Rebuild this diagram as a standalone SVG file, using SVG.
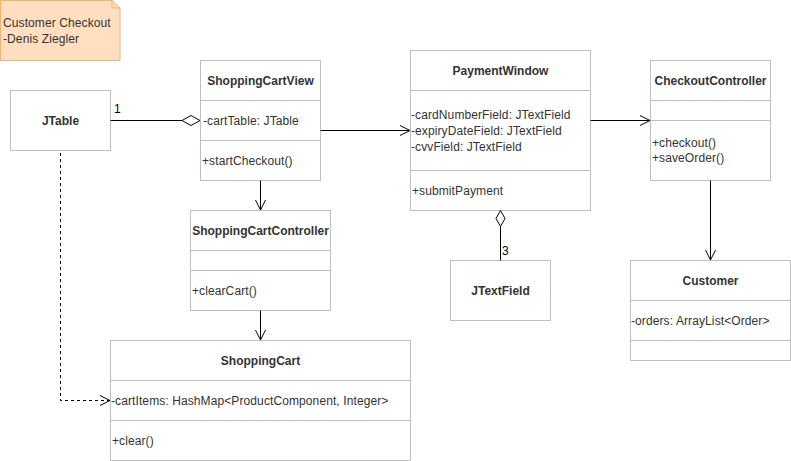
<svg xmlns="http://www.w3.org/2000/svg" width="791" height="461" viewBox="0 0 791 461">
<defs>
<style>
.box{fill:#fff;stroke:#c0c0c0;stroke-width:1}
.sep{stroke:#c0c0c0;stroke-width:1}
.t{font-family:"Liberation Sans",Arial,sans-serif;font-size:12px;fill:#333;letter-spacing:0.1px}
.b{font-weight:bold;text-anchor:middle;letter-spacing:0}
.ln{fill:none;stroke:#000;stroke-width:1}
.dash{stroke-dasharray:3,3}
.dia{fill:#fff;stroke:#000;stroke-width:1}
</style>
<marker id="open" markerWidth="12" markerHeight="12" refX="11" refY="6" orient="auto" markerUnits="userSpaceOnUse">
<path d="M1,1 L11,6 L1,11" fill="none" stroke="#000" stroke-width="1"/>
</marker>
</defs>
<rect width="791" height="461" fill="#fff"/>

<g id="note">
<path d="M0.5,0.5 H112 L120,8 V60.5 H0.5 Z" fill="#ffdfbf" stroke="#f5b26b"/>
<path d="M112,0.5 V8 H120" fill="none" stroke="#f5b26b"/>
<text class="t" x="3" y="27">Customer Checkout</text>
<text class="t" x="3" y="43">-Denis Ziegler</text>
</g>

<g id="jtable">
<rect class="box" x="10.5" y="90.5" width="100" height="60"/>
<text class="t b" x="60.5" y="124.5">JTable</text>
</g>

<g id="shoppingCartView">
<rect class="box" x="200.5" y="60.5" width="120" height="120"/>
<line class="sep" x1="200.5" y1="100.5" x2="320.5" y2="100.5"/>
<line class="sep" x1="200.5" y1="140.5" x2="320.5" y2="140.5"/>
<text class="t b" x="260.5" y="84.5">ShoppingCartView</text>
<text class="t" x="203" y="124.5">-cartTable: JTable</text>
<text class="t" x="202" y="164.5">+startCheckout()</text>
</g>

<g id="paymentWindow">
<rect class="box" x="410.5" y="50.5" width="180" height="160"/>
<line class="sep" x1="410.5" y1="90.5" x2="590.5" y2="90.5"/>
<line class="sep" x1="410.5" y1="170.5" x2="590.5" y2="170.5"/>
<text class="t b" x="500.5" y="74.5">PaymentWindow</text>
<text class="t" x="411" y="119">-cardNumberField: JTextField</text>
<text class="t" x="411" y="135">-expiryDateField: JTextField</text>
<text class="t" x="411" y="151">-cvvField: JTextField</text>
<text class="t" x="412" y="194.5">+submitPayment</text>
</g>

<g id="checkoutController">
<rect class="box" x="650.5" y="60.5" width="120" height="120"/>
<line class="sep" x1="650.5" y1="100.5" x2="770.5" y2="100.5"/>
<line class="sep" x1="650.5" y1="120.5" x2="770.5" y2="120.5"/>
<text class="t b" x="710.5" y="84.5">CheckoutController</text>
<text class="t" x="652" y="147">+checkout()</text>
<text class="t" x="652" y="162">+saveOrder()</text>
</g>

<g id="shoppingCartController">
<rect class="box" x="190.5" y="210.5" width="140" height="100"/>
<line class="sep" x1="190.5" y1="250.5" x2="330.5" y2="250.5"/>
<line class="sep" x1="190.5" y1="270.5" x2="330.5" y2="270.5"/>
<text class="t b" x="260.5" y="234.5">ShoppingCartController</text>
<text class="t" x="192" y="294.5">+clearCart()</text>
</g>

<g id="jtextfield">
<rect class="box" x="450.5" y="260.5" width="100" height="60"/>
<text class="t b" x="500.5" y="294.5">JTextField</text>
</g>

<g id="customer">
<rect class="box" x="630.5" y="260.5" width="160" height="100"/>
<line class="sep" x1="630.5" y1="300.5" x2="790.5" y2="300.5"/>
<line class="sep" x1="630.5" y1="340.5" x2="790.5" y2="340.5"/>
<text class="t b" x="710.5" y="284.5">Customer</text>
<text class="t" x="631" y="324.5">-orders: ArrayList&lt;Order&gt;</text>
</g>

<g id="shoppingCart">
<rect class="box" x="110.5" y="340.5" width="300" height="120"/>
<line class="sep" x1="110.5" y1="380.5" x2="410.5" y2="380.5"/>
<line class="sep" x1="110.5" y1="420.5" x2="410.5" y2="420.5"/>
<text class="t b" x="260.5" y="364.5">ShoppingCart</text>
<text class="t" x="111" y="404.5">-cartItems: HashMap&lt;ProductComponent, Integer&gt;</text>
<text class="t" x="112" y="444.5">+clear()</text>
</g>

<g id="connectors">
<line class="ln" x1="110.5" y1="120.5" x2="182" y2="120.5"/>
<path class="dia" d="M182,120.5 L191,115.5 L200,120.5 L191,125.5 Z"/>
<text class="t" x="114" y="113" style="fill:#000">1</text>

<line class="ln" x1="320.5" y1="130.5" x2="410" y2="130.5" marker-end="url(#open)"/>
<line class="ln" x1="590.5" y1="120.5" x2="650" y2="120.5" marker-end="url(#open)"/>
<line class="ln" x1="260.5" y1="180.5" x2="260.5" y2="210" marker-end="url(#open)"/>
<line class="ln" x1="260.5" y1="310.5" x2="260.5" y2="340" marker-end="url(#open)"/>
<line class="ln" x1="710.5" y1="180.5" x2="710.5" y2="260" marker-end="url(#open)"/>

<path class="dia" d="M500.5,210.5 L505,218.5 L500.5,226.5 L496,218.5 Z"/>
<line class="ln" x1="500.5" y1="226.5" x2="500.5" y2="260.5"/>
<text class="t" x="502" y="255" style="fill:#000">3</text>

<path class="ln dash" d="M60.5,153 V400.5 H110" marker-end="url(#open)"/>
</g>
</svg>
